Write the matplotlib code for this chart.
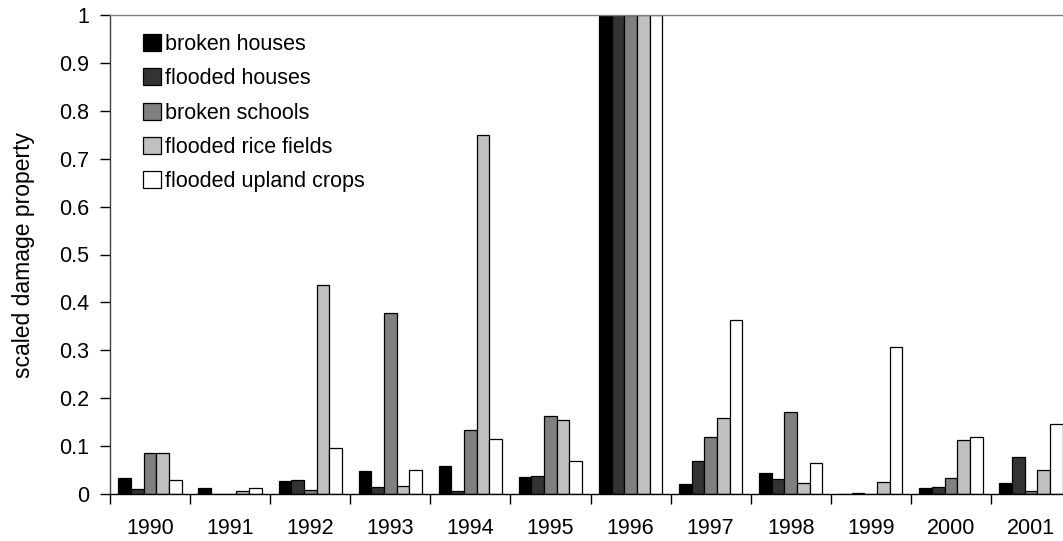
import matplotlib
matplotlib.use("Agg")
import matplotlib.pyplot as plt
import numpy as np

years = ["1990", "1991", "1992", "1993", "1994", "1995",
         "1996", "1997", "1998", "1999", "2000", "2001"]

broken_houses = [0.033, 0.0125, 0.027, 0.048, 0.059, 0.036, 1.0, 0.0215, 0.0445, 0.0, 0.0125, 0.0236]
flooded_houses = [0.010, 0.0, 0.030, 0.015, 0.006, 0.038, 1.0, 0.069, 0.0306, 0.003, 0.015, 0.077]
broken_schools = [0.0856, 0.001, 0.009, 0.378, 0.133, 0.163, 1.0, 0.118, 0.171, 0.0, 0.033, 0.006]
flooded_rice = [0.0856, 0.006, 0.437, 0.017, 0.750, 0.154, 1.0, 0.159, 0.024, 0.026, 0.112, 0.051]
flooded_upland = [0.030, 0.012, 0.097, 0.051, 0.115, 0.068, 1.0, 0.363, 0.065, 0.306, 0.118, 0.146]

series = [
    ("broken houses", broken_houses, "#000000"),
    ("flooded houses", flooded_houses, "#333333"),
    ("broken schools", broken_schools, "#808080"),
    ("flooded rice fields", flooded_rice, "#c0c0c0"),
    ("flooded upland crops", flooded_upland, "#ffffff"),
]

plt.rcParams["font.family"] = ["Liberation Sans", "DejaVu Sans"]
FS = 15.5

fig = plt.figure(figsize=(10.63, 5.41), dpi=100)
# plot area runs past the right edge of the picture, like the original
ax = fig.add_axes([110 / 1063, 47 / 541, 961 / 1063, 479 / 541])

x = np.arange(len(years))
w = 0.158
for k, (label, vals, color) in enumerate(series):
    ax.bar(x + (k - 2) * w, vals, width=w, color=color, edgecolor="black",
           linewidth=0.9, label=label, zorder=2)

ax.set_xlim(-0.5, len(years) - 0.5)
ax.set_ylim(0, 1)
ax.set_yticks(np.arange(0, 1.01, 0.1))
ax.set_yticklabels(["0"] + [f"{v:.1f}" for v in np.arange(0.1, 0.95, 0.1)] + ["1"])

# ticks sit between the year groups, labels in the middle
ax.set_xticks(np.arange(-0.5, len(years), 1.0))
ax.set_xticklabels([])
ax.set_xticks(x, minor=True)
ax.set_xticklabels(years, minor=True)
ax.tick_params(axis="x", which="major", direction="out", length=7, width=1)
ax.tick_params(axis="x", which="minor", length=0, pad=17, labelsize=FS)
ax.tick_params(axis="y", direction="out", length=7, width=1, pad=8, labelsize=FS)

ax.spines["right"].set_visible(False)
ax.spines["top"].set_color("#808080")
ax.spines["left"].set_color("#404040")
for s in ax.spines.values():
    s.set_linewidth(1)

ax.set_ylabel("scaled damage property", fontsize=16.5, labelpad=17)

ax.legend(loc="upper left", bbox_to_anchor=(143 / 1063, 1 - 34 / 541),
          bbox_transform=fig.transFigure, frameon=False, fontsize=FS,
          handlelength=0.84, handleheight=0.84, handletextpad=0.2,
          labelspacing=0.62, borderaxespad=0, borderpad=0)

fig.savefig("out.png", dpi=100)
